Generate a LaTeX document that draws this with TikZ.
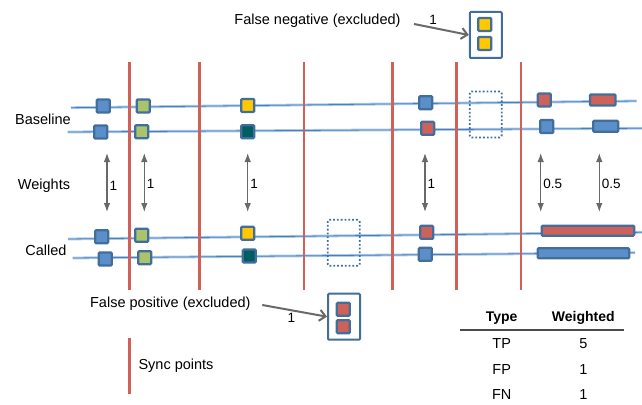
\documentclass[tikz,border=0pt]{standalone}
\usepackage{fontspec}
\setmainfont{Liberation Sans}
\usetikzlibrary{arrows.meta}
\definecolor{boxblue}{RGB}{91,143,201}
\definecolor{edgeblue}{RGB}{66,110,156}
\definecolor{callgreen}{RGB}{169,196,107}
\definecolor{callyellow}{RGB}{255,200,0}
\definecolor{callteal}{RGB}{0,94,96}
\definecolor{callred}{RGB}{206,98,90}
\definecolor{syncred}{RGB}{208,96,88}
\definecolor{trackblue}{RGB}{72,128,186}
\definecolor{trackglow}{RGB}{172,202,232}
\definecolor{arrowgray}{RGB}{105,105,105}

\begin{document}
\begin{tikzpicture}[x=1pt,y=-1pt,
    font=\fontsize{14.5}{17}\selectfont,
    sq/.style={draw=edgeblue, line width=2.2pt, rounded corners=1pt, minimum width=13pt, minimum height=13pt, inner sep=0pt},
    bar/.style={sq, minimum height=11pt},
    track/.style={draw=trackblue, line width=0.8pt, preaction={draw=trackglow, line width=2.8pt}},
    sync/.style={draw=syncred, line width=2.8pt},
    wt/.style={draw=arrowgray, line width=1.1pt, {Latex[length=9pt,width=6.5pt]}-{Latex[length=9pt,width=6.5pt]}},
    ptr/.style={draw=arrowgray, line width=2pt, -{Straight Barb[length=6pt,width=11pt]}},
    gap/.style={draw=edgeblue, dotted, line width=1.8pt, rounded corners=2pt, minimum width=32pt, minimum height=46pt},
    group/.style={draw=edgeblue, fill=white, line width=2pt, rounded corners=1pt, minimum width=32pt, minimum height=46pt},
    num/.style={font=\fontsize{13.5}{16}\selectfont, inner sep=2pt}]
    \clip (0,0) rectangle (642,404);

    \draw[track] (71,107.7) -- (636.7,101);
    \draw[track] (67.7,132) -- (650,128.2);
    \draw[track] (68,239) -- (650,232.2);
    \draw[track] (72.7,258) -- (635,252.7);

    \draw[sync] (129.5,62) -- (129.5,290);
    \draw[sync] (199.5,62) -- (199.5,290);
    \draw[sync] (304,62) -- (304,290);
    \draw[sync] (392.3,62) -- (392.3,290);
    \draw[sync] (456.7,62) -- (456.7,290);
    \draw[sync] (521,62) -- (521,290);

    \node (baseline) at (43,119) {Baseline};
    \node (weights) at (44,185.5) {Weights};
    \node (called) at (46,250) {Called};

    \node[sq, fill=boxblue] (b1) at (103.3,106) {};
    \node[sq, fill=callgreen] (b2) at (143.3,106) {};
    \node[sq, fill=callyellow] (b3) at (247.7,105.5) {};
    \node[sq, fill=boxblue] (b4) at (425.7,102.7) {};
    \node[sq, fill=callred] (b5) at (544.3,100) {};
    \node[bar, fill=callred, minimum width=25.5pt] (b6) at (602.7,100) {};
    \node[sq, fill=boxblue] (b7) at (100.7,132) {};
    \node[sq, fill=callgreen] (b8) at (141.7,131.7) {};
    \node[sq, fill=callteal] (b9) at (247.7,131.7) {};
    \node[sq, fill=callred] (b10) at (427.7,128.3) {};
    \node[sq, fill=boxblue] (b11) at (546.7,126.5) {};
    \node[bar, fill=boxblue, minimum width=25pt] (b12) at (605.7,126.3) {};
    \node[gap] (bgap) at (485.7,114.5) {};

    \node[sq, fill=boxblue] (c1) at (101.7,236.7) {};
    \node[sq, fill=callgreen] (c2) at (141.7,235.3) {};
    \node[sq, fill=callyellow] (c3) at (247.7,233.3) {};
    \node[sq, fill=callred] (c4) at (426.7,232.3) {};
    \node[bar, fill=callred, minimum width=92.5pt, minimum height=10pt] (c5) at (587.9,230.7) {};
    \node[sq, fill=boxblue] (c6) at (105.3,259) {};
    \node[sq, fill=callgreen] (c7) at (144.7,257.7) {};
    \node[sq, fill=callteal] (c8) at (249.3,256) {};
    \node[sq, fill=boxblue] (c9) at (425.3,254.3) {};
    \node[bar, fill=boxblue, minimum width=91.5pt, minimum height=10pt] (c10) at (583.4,253.3) {};
    \node[gap] (cgap) at (343.7,242.8) {};

    \coordinate (u1) at (107,153);    \coordinate (d1) at (107,212);
    \coordinate (u2) at (144.3,153);  \coordinate (d2) at (144.3,212);
    \coordinate (u3) at (247.7,153);  \coordinate (d3) at (247.7,212);
    \coordinate (u4) at (425,153);    \coordinate (d4) at (425,212);
    \coordinate (u5) at (540.7,153);  \coordinate (d5) at (540.7,212);
    \coordinate (u6) at (599.3,153);  \coordinate (d6) at (599.3,212);
    \draw[wt] (u1) -- node[num, right, yshift=-3pt] (w1) {1} (d1);
    \draw[wt] (u2) -- node[num, right, yshift=-1pt] (w2) {1} (d2);
    \draw[wt] (u3) -- node[num, right, yshift=-1pt] (w3) {1} (d3);
    \draw[wt] (u4) -- node[num, right, yshift=-1pt] (w4) {1} (d4);
    \draw[wt] (u5) -- node[num, right, yshift=-1pt] (w5) {0.5} (d5);
    \draw[wt] (u6) -- node[num, right, yshift=-1pt] (w6) {0.5} (d6);

    \node[group] (fnbox) at (485.8,35) {};
    \node[sq, fill=callyellow] (fn1) at (484.7,24.5) {};
    \node[sq, fill=callyellow] (fn2) at (484.7,43.5) {};
    \node (fntext) at (317.5,21) {False negative (excluded)};
    \coordinate (fnstart) at (414,24);
    \draw[ptr] (fnstart) -- node[num, above, pos=0.35] (fnw) {1} (fnbox.west);

    \node[group] (fpbox) at (344,316.7) {};
    \node[sq, fill=callred] (fp1) at (343.3,309.3) {};
    \node[sq, fill=callred] (fp2) at (343.3,326.7) {};
    \node (fptext) at (170.3,303.3) {False positive (excluded)};
    \coordinate (fpstart) at (262.3,305);
    \draw[ptr] (fpstart) -- node[num, below, pos=0.45] (fpw) {1} (fpbox.west);

    \coordinate (legtop) at (129.3,337.7);
    \coordinate (legbot) at (129.3,394);
    \draw[sync] (legtop) -- (legbot);
    \node[anchor=west] (legtext) at (135,366) {Sync points};

    \node[font=\fontsize{14}{16}\selectfont\bfseries] (hType) at (501.7,318.3) {Type};
    \node[font=\fontsize{14}{16}\selectfont\bfseries] (hWeighted) at (583.3,318.3) {Weighted};
    \coordinate (ruleL) at (460,330);
    \coordinate (ruleR) at (624,330);
    \draw[draw=black!70, line width=2pt] (ruleL) -- (ruleR);
    \node (tp) at (501.7,344) {TP};
    \node (tpv) at (583.3,344) {5};
    \node (fp) at (501.7,369.3) {FP};
    \node (fpv) at (583.3,369.3) {1};
    \node (fn) at (501.7,394.5) {FN};
    \node (fnv) at (583.3,394.5) {1};
\end{tikzpicture}
\end{document}
